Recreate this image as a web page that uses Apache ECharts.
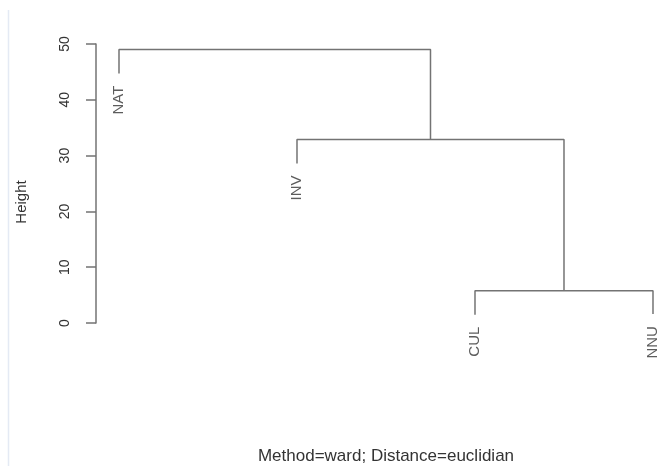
<!DOCTYPE html>
<html>
<head>
<meta charset="utf-8">
<script src="https://cdn.jsdelivr.net/npm/echarts@6/dist/echarts.min.js"></script>
<style>html,body{margin:0;padding:0;background:#fff;}#c{width:662px;height:466px;}</style>
</head>
<body>
<div id="c"></div>
<script>
// Leaves (left to right) and where each leaf's branch ends (height)
const leafLabels = ['NAT', 'INV', 'CUL', 'NNU'];
const leafEnds = [44.7, 28.6, 1.5, 1.6];
// Merge table (R style: negative = leaf number, positive = earlier merge)
const mergeLeft = [-3, -2, -1];
const mergeRight = [-4, 1, 2];
const mergeHeights = [5.8, 32.9, 49.0];
// Y axis ticks
const yMin = 0, yMax = 50, yStep = 10;
const yTitle = 'Height';
const subTitle = 'Method=ward; Distance=euclidian';

const FONT = 'Liberation Sans, Arial, sans-serif';
const LINE = '#737373';
const TEXT = '#333333';

const mergeX = [];
function nodeX(id) { return id < 0 ? (-id) : mergeX[id - 1]; }
function nodeBottom(id) { return id < 0 ? leafEnds[-id - 1] : mergeHeights[id - 1]; }

const series = [];
for (let k = 0; k < mergeHeights.length; k++) {
  const xl = nodeX(mergeLeft[k]), xr = nodeX(mergeRight[k]);
  const h = mergeHeights[k];
  mergeX.push((xl + xr) / 2);
  series.push({
    type: 'line', silent: true, symbol: 'none', animation: false,
    lineStyle: { color: LINE, width: 1.5 },
    data: [[xl, nodeBottom(mergeLeft[k])], [xl, h], [xr, h], [xr, nodeBottom(mergeRight[k])]]
  });
}
series.push({
  type: 'scatter', silent: true, symbolSize: 0, animation: false,
  data: leafLabels.map((n, i) => ({ value: [i + 1, leafEnds[i]], name: n })),
  label: {
    show: true, position: 'bottom', distance: 12, rotate: 90,
    align: 'right', verticalAlign: 'middle',
    formatter: p => p.name, fontSize: 15, color: TEXT, fontFamily: FONT
  }
});

const chart = echarts.init(document.getElementById('c'), null, { renderer: 'canvas' });
chart.setOption({
  animation: false,
  grid: { left: 96, right: 0, top: 44, bottom: 143 },
  xAxis: { type: 'value', min: 0.8708, max: 4.0506, show: false },
  yAxis: {
    type: 'value', min: yMin, max: yMax, interval: yStep,
    axisLine: { show: true, lineStyle: { color: LINE, width: 1.5 } },
    axisTick: { show: true, length: 10, lineStyle: { color: LINE, width: 1.5 } },
    splitLine: { show: false },
    axisLabel: { rotate: 90, margin: 24, fontSize: 14, color: TEXT, fontFamily: FONT }
  },
  graphic: [
    { type: 'line', silent: true, shape: { x1: 8.5, y1: 10, x2: 8.5, y2: 466 }, style: { stroke: '#e4eaf4', lineWidth: 1.5 } },
    { type: 'text', silent: true, x: 22, y: 202, rotation: Math.PI / 2,
      style: { text: yTitle, align: 'center', verticalAlign: 'middle', fontSize: 15, fill: TEXT, fontFamily: FONT } },
    { type: 'text', silent: true, x: 386, y: 456,
      style: { text: subTitle, align: 'center', verticalAlign: 'middle', fontSize: 17, fill: TEXT, fontFamily: FONT } }
  ],
  series: series
});
</script>
</body>
</html>
